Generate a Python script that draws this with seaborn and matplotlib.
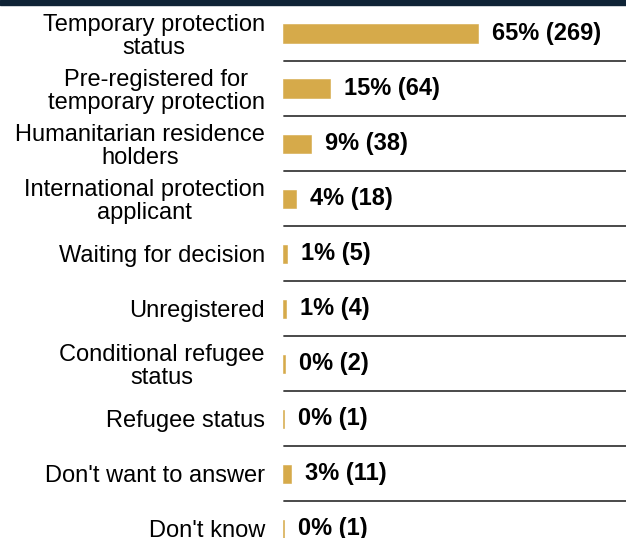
import matplotlib
matplotlib.use("Agg")
import matplotlib.pyplot as plt
import pandas as pd
import seaborn as sns
from matplotlib.patches import Rectangle


CATEGORIES = [
    "Temporary protection\nstatus",
    "Pre-registered for\ntemporary protection",
    "Humanitarian residence\nholders",
    "International protection\napplicant",
    "Waiting for decision",
    "Unregistered",
    "Conditional refugee\nstatus",
    "Refugee status",
    "Don't want to answer",
    "Don't know",
]
COUNTS = [269, 64, 38, 18, 5, 4, 2, 1, 11, 1]
PERCENTS = [65, 15, 9, 4, 1, 1, 0, 0, 3, 0]

BAR_COLOR = "#D6AA4A"
NAVY = "#0F2336"


def main() -> None:
    df = pd.DataFrame({"category": CATEGORIES, "count": COUNTS, "pct": PERCENTS})

    sns.set_theme(style="white")
    plt.rcParams["font.family"] = ["Liberation Sans", "DejaVu Sans"]

    fig = plt.figure(figsize=(6.26, 5.38), dpi=100)
    ax = fig.add_axes([283 / 626, 0, 1 - 283 / 626, 1])

    sns.barplot(data=df, y="category", x="count", color=BAR_COLOR, width=0.33,
                saturation=1, linewidth=0.4, edgecolor=BAR_COLOR, ax=ax)

    ax.set_xlim(-0.5, 474)
    ax.set_ylim(9.17, -0.61)
    ax.set_xlabel("")
    ax.set_ylabel("")
    ax.set_xticks([])
    for side in ["top", "right", "bottom", "left"]:
        ax.spines[side].set_visible(False)

    # separators between rows
    for k in range(len(CATEGORIES) - 1):
        ax.axhline(k + 0.5, xmin=1 / 343, color="#3a3a3a", linewidth=1.3)

    ax.tick_params(axis="y", length=0, pad=13, labelsize=17, labelcolor="black")
    for label in ax.get_yticklabels():
        label.set_multialignment("center")
        label.set_linespacing(1.08)

    for i, (count, pct) in enumerate(zip(COUNTS, PERCENTS)):
        ax.annotate(f"{pct}% ({count})", xy=(count, i), xytext=(10, 0),
                    textcoords="offset points", va="center", ha="left",
                    fontsize=17, fontweight="bold", color="black")

    fig.add_artist(Rectangle((0, 1 - 5 / 538), 1, 5 / 538, transform=fig.transFigure,
                             color=NAVY, zorder=10))

    fig.savefig("out.png", dpi=100)
    plt.close(fig)


if __name__ == "__main__":
    main()
